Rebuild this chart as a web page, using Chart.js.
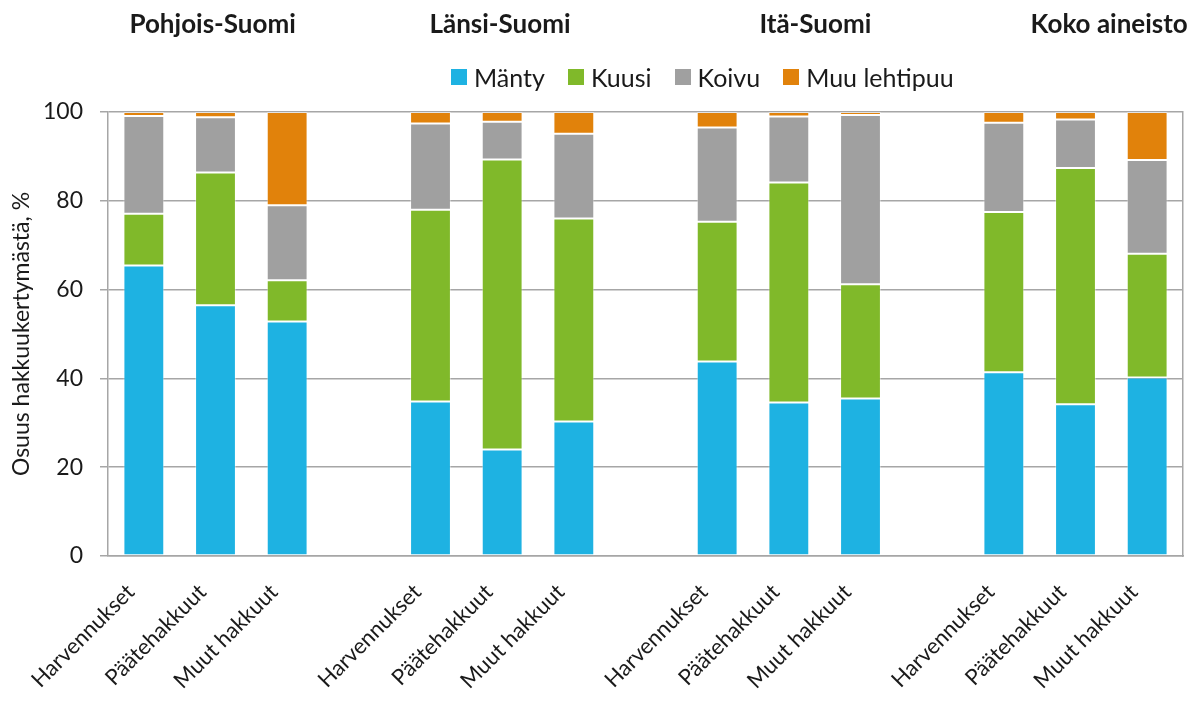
<!DOCTYPE html>
<html>
<head>
<meta charset="utf-8">
<script src="https://cdn.jsdelivr.net/npm/chart.js@4.4.1/dist/chart.umd.min.js"></script>
<style>
  html, body { margin: 0; padding: 0; background: #fff; }
  #wrap { position: relative; width: 1196px; height: 707px; }
  #legend {
    position: absolute; left: 451px; top: 62px;
    display: flex; align-items: center;
    font-family: Lato, sans-serif; font-size: 25px; color: #1a1a1a;
  }
  #legend .item { display: flex; align-items: center; margin-right: 23px; }
  #legend .box { width: 16px; height: 16px; margin-right: 7px; }
</style>
</head>
<body>
<div id="wrap">
  <canvas id="chart" width="1196" height="707"></canvas>
  <div id="legend"></div>
</div>
<script>
const categories = [
  'Harvennukset', 'Päätehakkuut', 'Muut hakkuut', '',
  'Harvennukset', 'Päätehakkuut', 'Muut hakkuut', '',
  'Harvennukset', 'Päätehakkuut', 'Muut hakkuut', '',
  'Harvennukset', 'Päätehakkuut', 'Muut hakkuut'
];
const groupTitles = ['Pohjois-Suomi', 'Länsi-Suomi', 'Itä-Suomi', 'Koko aineisto'];
const seriesNames = ['Mänty', 'Kuusi', 'Koivu', 'Muu lehtipuu'];

const manty = [65.4, 56.5, 52.8, null, 34.8, 24.0, 30.3, null, 43.8, 34.6, 35.5, null, 41.4, 34.2, 40.2];
const kuusi = [11.7, 29.9, 9.3, null, 43.2, 65.3, 45.7, null, 31.5, 49.5, 25.7, null, 36.1, 53.2, 27.9];
const koivu = [22.0, 12.4, 16.9, null, 19.4, 8.5, 19.1, null, 21.2, 14.9, 38.1, null, 20.1, 10.9, 21.1];
const muuLehtipuu = [0.9, 1.2, 21.0, null, 2.6, 2.2, 4.9, null, 3.5, 1.0, 0.7, null, 2.4, 1.7, 10.8];

const yTicks = [0, 20, 40, 60, 80, 100];

const colors = ['#1eb2e2', '#80b92a', '#a0a0a0', '#e1820b'];
const gridColor = '#a6a6a6';
const textColor = '#1a1a1a';
const fontName = 'Lato';

const seriesData = [manty, kuusi, koivu, muuLehtipuu];

// html legend, placed like in the original
let legend = document.getElementById('legend');
seriesNames.forEach((name, i) => {
  let item = document.createElement('div');
  item.className = 'item';
  item.innerHTML = `<span class="box" style="background:${colors[i]}"></span><span>${name}</span>`;
  legend.appendChild(item);
});

// group titles above the bars
const groupTitlePlugin = {
  id: 'groupTitles',
  afterDraw(chart, args, opts) {
    const ctx = chart.ctx;
    const x = chart.scales.x;
    const step = x.getPixelForValue(1) - x.getPixelForValue(0);
    ctx.save();
    ctx.font = `bold 26px ${fontName}`;
    ctx.fillStyle = textColor;
    ctx.textAlign = 'center';
    ctx.textBaseline = 'alphabetic';
    groupTitles.forEach((t, i) => {
      const pos = opts.at[i];
      const base = Math.floor(pos);
      const px = x.getPixelForValue(base) + (pos - base) * step;
      ctx.fillText(t, px, opts.baseline);
    });
    ctx.restore();
  }
};

new Chart(document.getElementById('chart'), {
  type: 'bar',
  data: {
    labels: categories,
    datasets: seriesNames.map((name, i) => ({
      label: name,
      data: seriesData[i],
      backgroundColor: colors[i],
      borderColor: 'rgba(255,255,255,0.4)',
      borderWidth: 1,
      borderSkipped: false,
      barPercentage: 1,
      categoryPercentage: 0.57
    }))
  },
  options: {
    responsive: false,
    animation: false,
    layout: { padding: { top: 112, right: 13, left: 0, bottom: 0 } },
    plugins: {
      legend: { display: false },
      tooltip: { enabled: false },
      groupTitles: { at: [0.96, 4.97, 9.37, 13.47], baseline: 33 }
    },
    scales: {
      x: {
        stacked: true,
        grid: { display: false, drawTicks: false },
        border: { display: true, color: gridColor, width: 1.5 },
        ticks: {
          autoSkip: false,
          minRotation: 45,
          maxRotation: 45,
          padding: 23,
          labelOffset: -13,
          color: textColor,
          font: { family: fontName, size: 22 }
        },
        afterFit(scale) { scale.height = 151; }
      },
      y: {
        stacked: true,
        min: 0,
        max: 100,
        afterBuildTicks(scale) { scale.ticks = yTicks.map(v => ({ value: v })); },
        grid: { color: gridColor, lineWidth: 1.5, tickLength: 8 },
        border: { display: true, color: gridColor, width: 1.5 },
        ticks: {
          padding: 17,
          color: textColor,
          font: { family: fontName, size: 23 }
        },
        title: {
          display: true,
          text: 'Osuus hakkuukertymästä, %',
          color: textColor,
          font: { family: fontName, size: 23 },
          padding: { top: 8, bottom: 0 }
        },
        afterFit(scale) { scale.width = 108; }
      },
      y2: {
        position: 'right',
        min: 0,
        max: 100,
        grid: { display: false, drawTicks: false },
        ticks: { display: false },
        border: { display: true, color: gridColor, width: 1.5 },
        afterFit(scale) { scale.width = 0; }
      }
    }
  },
  plugins: [groupTitlePlugin]
});
</script>
</body>
</html>
